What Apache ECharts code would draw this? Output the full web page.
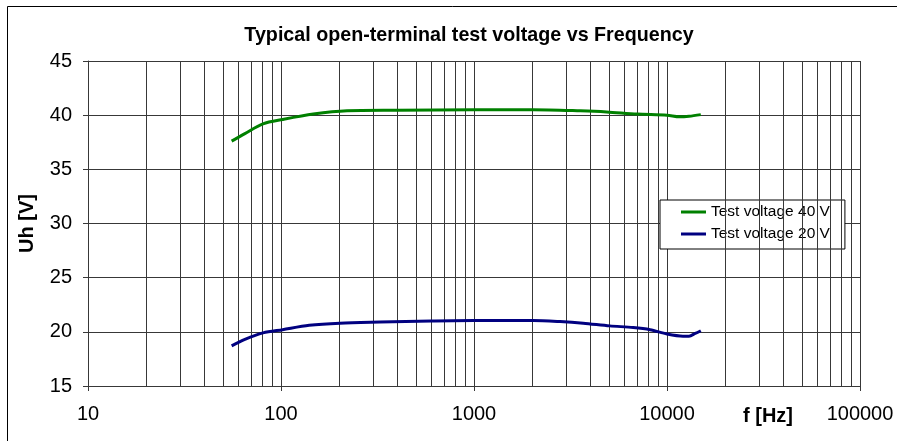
<!DOCTYPE html>
<html>
<head>
<meta charset="utf-8">
<script src="https://cdn.jsdelivr.net/npm/echarts@6/dist/echarts.min.js"></script>
<style>
  html, body { margin: 0; padding: 0; background: #fff; }
  #chart { width: 897px; height: 441px; }
</style>
</head>
<body>
<div id="chart"></div>
<script>
// Measured open-terminal voltage over frequency
const freq40 = [55.5, 65, 80.7, 102, 147, 220, 400, 1000, 2024, 3550, 4860, 7000, 10000, 11600, 13000, 14970];
const volt40 = [37.6, 38.3, 39.2, 39.6, 40.1, 40.4, 40.45, 40.5, 40.5, 40.4, 40.3, 40.1, 40.0, 39.85, 39.9, 40.05];

const freq20 = [55.5, 65, 80.7, 102, 140, 202, 326, 600, 1000, 2024, 2790, 3680, 5050, 6680, 8170, 10000, 12100, 13000, 14000, 14970];
const volt20 = [18.7, 19.3, 19.9, 20.2, 20.6, 20.8, 20.9, 21.0, 21.05, 21.05, 20.95, 20.8, 20.55, 20.4, 20.2, 19.8, 19.6, 19.6, 19.85, 20.1];

const seriesNames = ['Test voltage 40 V', 'Test voltage 20 V'];
const yTicks = [15, 20, 25, 30, 35, 40, 45];
const xDecades = [10, 100, 1000, 10000, 100000];

// intermediate log grid lines (2..9 of every decade)
const minorFreqs = [];
for (let d = 0; d < xDecades.length - 1; d++) {
  for (let m = 2; m <= 9; m++) minorFreqs.push(m * xDecades[d]);
}

const zip = (xs, ys) => xs.map((x, i) => [x, ys[i]]);
const gridColor = '#383838';
const font = '"Liberation Sans", Arial, sans-serif';

const chart = echarts.init(document.getElementById('chart'), null, { renderer: 'canvas' });
chart.setOption({
  animation: false,
  backgroundColor: '#fff',
  textStyle: { fontFamily: font },
  title: {
    text: 'Typical open-terminal test voltage vs Frequency',
    left: 464, top: 21, textAlign: 'center',
    textStyle: { fontFamily: font, fontSize: 19.7, fontWeight: 'bold', color: '#000' }
  },
  grid: { left: 88, right: 37, top: 61, bottom: 55 },
  legend: {
    data: seriesNames,
    orient: 'vertical',
    left: 660, top: 200,
    padding: [4, 15, 7, 21],
    itemGap: 6,
    itemWidth: 25, itemHeight: 3,
    icon: 'rect',
    backgroundColor: '#fff',
    borderColor: '#000', borderWidth: 1,
    textStyle: { fontFamily: font, fontSize: 15.5, color: '#000' }
  },
  xAxis: {
    type: 'log', logBase: 10, min: xDecades[0], max: xDecades[xDecades.length - 1],
    axisLine: { show: true, lineStyle: { color: gridColor, width: 1 } },
    axisTick: { show: true, length: 5, lineStyle: { color: gridColor } },
    axisLabel: { fontFamily: font, fontSize: 20, color: '#000', margin: 18,
                 formatter: v => String(Math.round(v)) },
    splitLine: { show: true, lineStyle: { color: gridColor, width: 1 } },
    minorTick: { show: false }
  },
  yAxis: {
    type: 'value', min: yTicks[0], max: yTicks[yTicks.length - 1], interval: 5,
    name: 'Uh [V]', nameLocation: 'middle', nameGap: 51, nameRotate: 90,
    nameTextStyle: { fontFamily: font, fontSize: 20, fontWeight: 'bold', color: '#000' },
    axisLine: { show: true, lineStyle: { color: gridColor, width: 1 } },
    axisTick: { show: true, length: 5, lineStyle: { color: gridColor } },
    axisLabel: { fontFamily: font, fontSize: 20, color: '#000', margin: 16 },
    splitLine: { show: true, lineStyle: { color: gridColor, width: 1 } }
  },
  graphic: [
    { type: 'polyline', silent: true, shape: { points: [[7.5, 441], [7.5, 6.5], [897, 6.5]] },
      style: { stroke: '#000', lineWidth: 1, fill: null } },
    { type: 'text', left: 743, top: 406, silent: true,
      style: { text: 'f [Hz]', fontFamily: font, fontSize: 20, fontWeight: 'bold', fill: '#000' } }
  ],
  series: [
    {
      name: seriesNames[0], type: 'line', data: zip(freq40, volt40),
      showSymbol: false, smooth: 0.3, z: 5,
      itemStyle: { color: '#008000' },
      lineStyle: { color: '#008000', width: 3 },
      markLine: {
        silent: true, symbol: 'none', animation: false,
        label: { show: false },
        lineStyle: { color: gridColor, width: 1, type: 'solid' },
        data: minorFreqs.map(f => ({ xAxis: f }))
      }
    },
    {
      name: seriesNames[1], type: 'line', data: zip(freq20, volt20),
      showSymbol: false, smooth: 0.3, z: 5,
      itemStyle: { color: '#000080' },
      lineStyle: { color: '#000080', width: 3 }
    }
  ]
});
</script>
</body>
</html>
